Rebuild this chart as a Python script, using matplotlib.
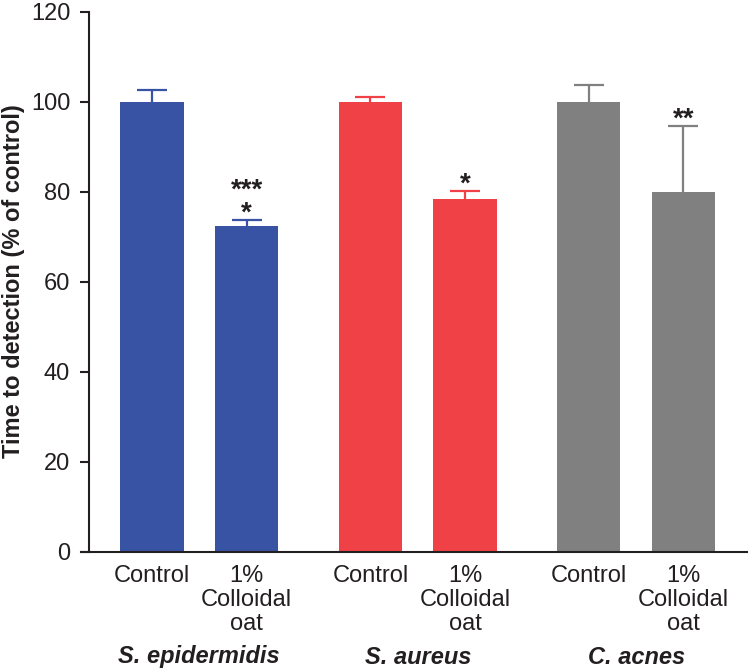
import matplotlib
matplotlib.use("Agg")
import matplotlib.pyplot as plt
import matplotlib.transforms as mtransforms
import numpy as np

plt.rcParams['font.family'] = ['Liberation Sans', 'DejaVu Sans']

groups = ["S. epidermidis", "S. aureus", "C. acnes"]
conditions = ["Control", "1%\nColloidal\noat"]
means = [100.0, 72.4, 100.0, 78.4, 100.0, 80.0]
errors = [2.7, 1.4, 1.1, 1.8, 3.8, 14.7]
colors_grp = ["#3853A4", "#EF4146", "#808080"]
stars = ["", "***\n*", "", "*", "", "**"]

TXT = '#231F20'
FS = 17

group_step = 2.31
positions = []
for g in range(3):
    positions += [g * group_step, g * group_step + 1]
positions = np.array(positions)
bar_colors = [c for c in colors_grp for _ in range(2)]

fig = plt.figure(figsize=(7.5, 6.72), dpi=100)
ax = fig.add_axes([81/750, 1-552/672, (747-81)/750, (552-12)/672])

ax.bar(positions, means, width=0.667, color=bar_colors, edgecolor='none', zorder=2)
for x, m, e, c in zip(positions, means, errors, bar_colors):
    _, caps, _ = ax.errorbar(x, m, yerr=[[0], [e]], fmt='none', ecolor=c, elinewidth=1.6,
                             capsize=11, capthick=1.6, zorder=3)
    caps[0].set_visible(False)

# significance stars
for x, m, e, s in zip(positions, means, errors, stars):
    if not s:
        continue
    ax.annotate(s, (x, m + e), xytext=(0, -4.9), textcoords='offset points',
                ha='center', va='bottom', multialignment='center', linespacing=0.85,
                fontsize=20, fontweight='bold', color=TXT)

ax.set_xlim(-0.751, positions[-1] + 0.672)
ax.set_ylim(0, 120)
ax.set_yticks([0, 20, 40, 60, 80, 100, 120])
ax.spines['left'].set_position(('data', -0.667))
ax.spines['right'].set_visible(False)
ax.spines['top'].set_visible(False)
for sp in ['left', 'bottom']:
    ax.spines[sp].set_linewidth(1.5)
    ax.spines[sp].set_color(TXT)
ax.tick_params(axis='y', direction='out', length=6.5, width=1.5, color=TXT,
               labelsize=FS, pad=7, labelcolor=TXT)
ax.set_xticks(positions)
ax.set_xticklabels([conditions[i % 2] for i in range(6)], fontsize=FS, linespacing=1.12,
                   color=TXT, va='top')
ax.tick_params(axis='x', length=0, pad=9)

fig.text(14/750, 1 - 281/672, "Time to detection (% of control)", rotation=90,
         ha='center', va='center', fontsize=FS, fontweight='bold', color=TXT)

trans = mtransforms.blended_transform_factory(ax.transData, fig.transFigure)
for g, name in enumerate(groups):
    cx = (positions[2*g] + positions[2*g+1]) / 2
    ax.text(cx, 1 - 657/672, name, transform=trans,
            ha='center', va='center', fontsize=FS, fontweight='bold', fontstyle='italic', color=TXT)

fig.savefig("out.png", dpi=100)
